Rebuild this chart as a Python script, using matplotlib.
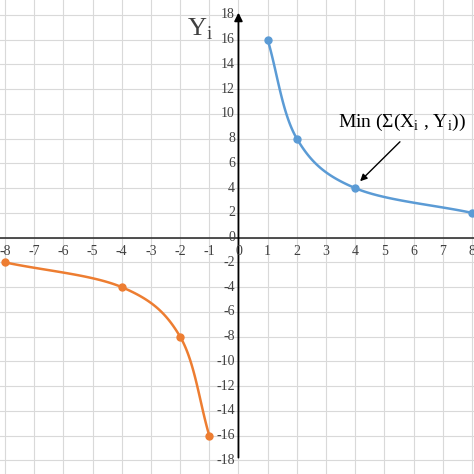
import numpy as np
import matplotlib
matplotlib.use("Agg")
import matplotlib.pyplot as plt

pos_x = [1, 2, 4, 8]
pos_y = [16, 8, 4, 2]
neg_x = [-8, -4, -2, -1]
neg_y = [-2, -4, -8, -16]
xticks = list(range(-8, 9))
yticks = list(range(-18, 19, 2))

def smooth(xs, ys, n=40):
    p = np.column_stack([xs, ys]).astype(float)
    p = np.vstack([2*p[0]-p[1], p, 2*p[-1]-p[-2]])
    out = []
    for i in range(1, len(p)-2):
        p0, p1, p2, p3 = p[i-1], p[i], p[i+1], p[i+2]
        t = np.linspace(0, 1, n)[:, None]
        pt = 0.5*((2*p1) + (-p0+p2)*t + (2*p0-5*p1+4*p2-p3)*t**2 + (-p0+3*p1-3*p2+p3)*t**3)
        out.append(pt)
    a = np.vstack(out)
    return a[:, 0], a[:, 1]

plt.rcParams['font.family'] = ['Liberation Serif', 'DejaVu Serif']
fig = plt.figure(figsize=(4.74, 4.74), dpi=100)
ax = fig.add_axes([0, 0, 1, 1])
ax.set_xlim(-8.17, 8.07)
ax.set_ylim(-19.1, 19.2)

for x in xticks:
    ax.axvline(x, color='#d9d9d9', lw=0.8, zorder=0)
for y in yticks:
    ax.axhline(y, color='#d9d9d9', lw=0.8, zorder=0)

ax.axhline(0, color='#333333', lw=1.2, zorder=1)
ax.annotate('', xy=(0, 18.4), xytext=(0, -18), arrowprops=dict(arrowstyle='-|>', color='black', lw=1.3, mutation_scale=12), zorder=2)

bx, by = smooth(pos_x, pos_y)
ax.plot(bx, by, color='#5b9bd5', lw=1.8, zorder=3)
ax.plot(pos_x, pos_y, 'o', color='#5b9bd5', ms=5, zorder=4)
ox, oy = smooth(neg_x, neg_y)
ax.plot(ox, oy, color='#ed7d31', lw=1.8, zorder=3)
ax.plot(neg_x, neg_y, 'o', color='#ed7d31', ms=5, zorder=4)

for x in xticks:
    ax.text(x, -0.6, str(x), ha='center', va='top', fontsize=10, color='#404040')
for y in yticks:
    ax.text(-0.12, y, str(y), ha='right', va='center', fontsize=10, color='#404040')

ax.text(-1.75, 16.3, r'Y$_\mathregular{i}$', fontsize=19, color='#404040')
ax.text(5.6, 9.3, r'Min ($\mathregular{\Sigma}$(X$_\mathregular{i}$ , Y$_\mathregular{i}$))',
        ha='center', va='center', fontsize=14)
ax.annotate('', xy=(4.1, 4.4), xytext=(5.6, 7.9),
            arrowprops=dict(arrowstyle='-|>', color='black', lw=1, mutation_scale=10))
ax.axis('off')
fig.savefig('out.png', dpi=100)
